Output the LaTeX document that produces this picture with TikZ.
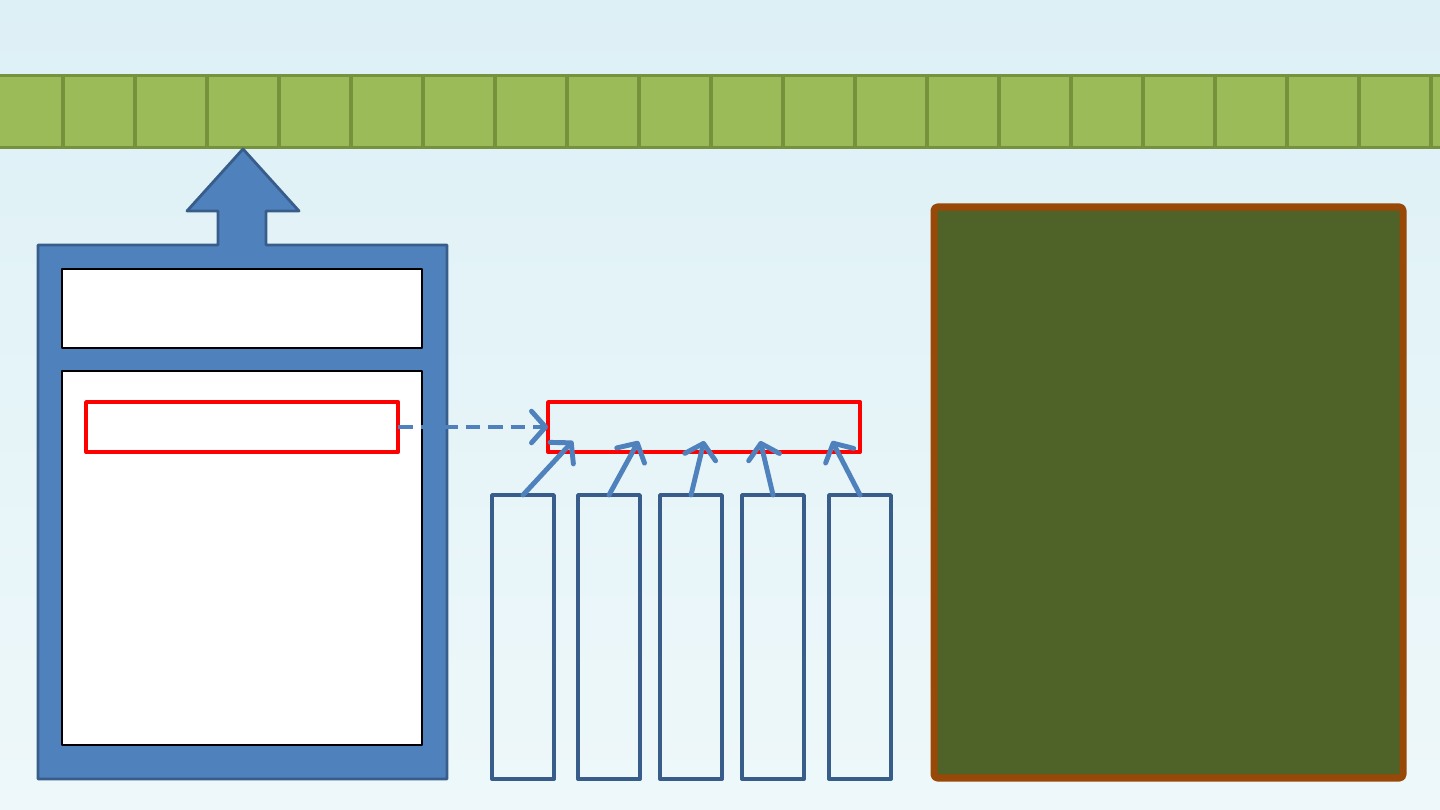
\documentclass[tikz,border=0pt]{standalone}
\usepackage{tikz}
\usetikzlibrary{arrows.meta, positioning, calc}

\definecolor{skybg}{HTML}{EEF8FA}
\definecolor{skytop}{HTML}{DDF0F6}
\definecolor{cellgreen}{HTML}{9BBB59}
\definecolor{celledge}{HTML}{76923C}
\definecolor{frameblue}{HTML}{4F81BD}
\definecolor{edgeblue}{HTML}{385D8A}
\definecolor{boardgreen}{HTML}{4F6228}
\definecolor{boardedge}{HTML}{984807}

\tikzset{
  cell/.style={draw=celledge, fill=cellgreen, line width=1.1pt, minimum width=0.72cm, minimum height=0.72cm, inner sep=0pt, outer sep=0pt},
  slot/.style={draw=black, fill=white, line width=0.5pt, anchor=north west, inner sep=0pt, outer sep=0pt, minimum width=3.6cm},
  redbox/.style={draw=red, line width=1.1pt, anchor=north west, inner sep=0pt, outer sep=0pt, minimum width=3.12cm, minimum height=0.5cm},
  pillar/.style={draw=edgeblue, line width=1pt, anchor=north west, inner sep=0pt, outer sep=0pt, minimum width=0.62cm, minimum height=2.84cm},
  feed/.style={draw=frameblue, line width=1.4pt, line cap=round, -{Straight Barb[length=4pt, width=9pt, round]}}
}

\begin{document}
\begin{tikzpicture}[x=0.01cm, y=-0.01cm, line join=round]
      \useasboundingbox (0,0) rectangle (1440,810);
      \shade[top color=skytop, bottom color=skybg] (0,0) rectangle (1440,810);
      % strip of cells
      \foreach \i in {0,...,20} {
        \node[cell] (c\i) at (-9+36+72*\i,111.5) {};
      }
      % container with arrow up
      \draw[fill=frameblue, draw=edgeblue, line width=0.8pt]
        (38,245) -- (218,245) -- (218,211) -- (187,211) -- (243,149)
        -- (299,211) -- (266,211) -- (266,245) -- (447,245)
        -- (447,779) -- (38,779) -- cycle;
      \node[slot, minimum height=0.79cm] (head) at (62,269) {};
      \node[slot, minimum height=3.74cm] (body) at (62,371) {};
      \node[redbox] (src) at (86,402) {};
      \node[redbox] (dst) at (548,402) {};
      \draw[feed, line cap=butt, dash pattern=on 4.2pt off 2.2pt] (src.east) -- (dst.west);
      % five pillars
      \foreach \n/\x/\t in {p1/492/0.08, p2/578/0.29, p3/660/0.5, p4/742/0.68, p5/829/0.91} {
        \node[pillar] (\n) at (\x,495) {};
        \draw[feed] (\n.north) -- ($(dst.south west)!\t!(dst.south east)+(0,-11)$);
      }
      % board
      \draw[fill=boardgreen, draw=boardedge, line width=2pt, rounded corners=1pt]
        (934,207) rectangle (1403,778);
    \end{tikzpicture}
\end{document}
